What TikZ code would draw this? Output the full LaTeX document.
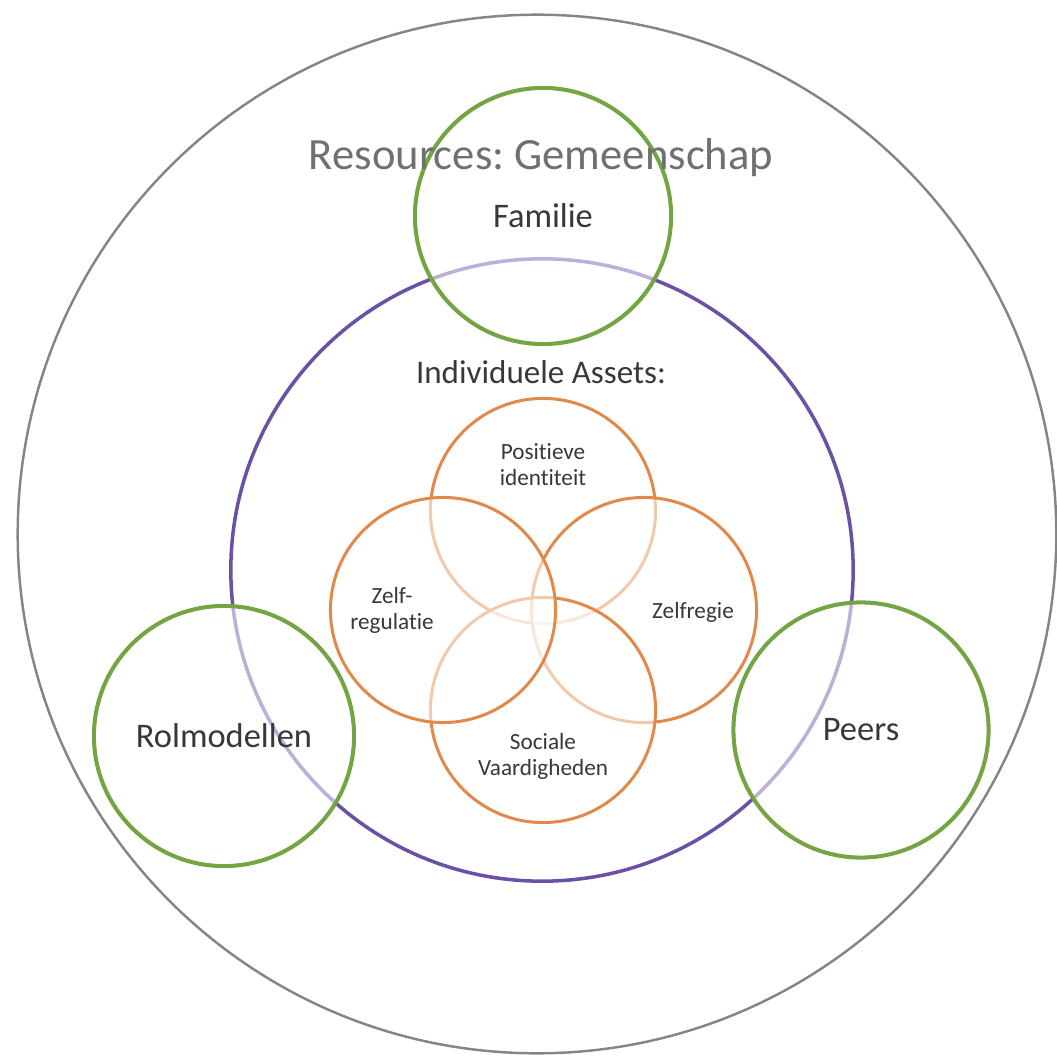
\documentclass[tikz,border=0pt]{standalone}
\usepackage{fontspec}
\setmainfont{Carlito}[Ligatures=NoCommon]
\usepackage[svgnames]{xcolor}
\usepackage{tikz}
\usetikzlibrary{positioning}
\usetikzlibrary{shapes.misc}
\frenchspacing

\definecolor{rimgray}{HTML}{858585}
\definecolor{titlegray}{HTML}{707070}
\definecolor{labelgray}{HTML}{383838}
\definecolor{assetpurple}{HTML}{6A50A7}
\definecolor{assetorange}{HTML}{E0894A}
\definecolor{resgreen}{HTML}{74A444}

\tikzset{
  ring/.style={circle, inner sep=0pt, fill=white, fill opacity=0.55, text opacity=1},
  resource/.style={ring, draw=resgreen, line width=1.15pt, font=\fontsize{9.8}{11}\selectfont, text=labelgray},
  asset/.style={ring, draw=assetorange, line width=0.85pt, minimum size=2.25cm},
  assettext/.style={font=\fontsize{6.6}{7.4}\selectfont, text=labelgray, align=center}
}

\begin{document}
\begin{tikzpicture}[x=0.01cm,y=-0.01cm]
            \useasboundingbox (0,0) rectangle (1056,1061);
            % gemeenschap en individu
            \node[circle, draw=rimgray, line width=0.7pt, minimum size=10.38cm] (gemeenschap) at (537,534) {};
            \node[circle, draw=assetpurple, line width=1pt, minimum size=6.22cm] (individu) at (542,570) {};
            \node[font=\fontsize{9.4}{11}\selectfont, text=labelgray] (assetstitel) at (541,372) {Individuele Assets:};
            % assets
            \node[asset] (identiteit) at (543,511) {};
            \node[asset] (regie) at (644,610) {};
            \node[asset] (sociaal) at (543,710) {};
            \node[asset] (regulatie) at (443,610) {};
            \node[assettext] (identiteittekst) at (543,465) {Positieve\\identiteit};
            \node[assettext] (regietekst) at (693,612) {Zelfregie};
            \node[assettext] (sociaaltekst) at (543,756) {Sociale\\Vaardigheden};
            \node[assettext] (regulatietekst) at (392,610) {Zelf-\\regulatie};
            % resources
            \node[resource, minimum size=2.56cm] (familie) at (543,216) {Familie};
            \node[resource, minimum size=2.60cm] (rolmodellen) at (224,736) {Rolmodellen};
            \node[resource, minimum size=2.55cm] (peers) at (861,730) {Peers};
            \node[font=\fontsize{12.7}{14}\selectfont, text=titlegray] (resourcestitel) at (541,158) {Resources: Gemeenschap};
\end{tikzpicture}
\end{document}
